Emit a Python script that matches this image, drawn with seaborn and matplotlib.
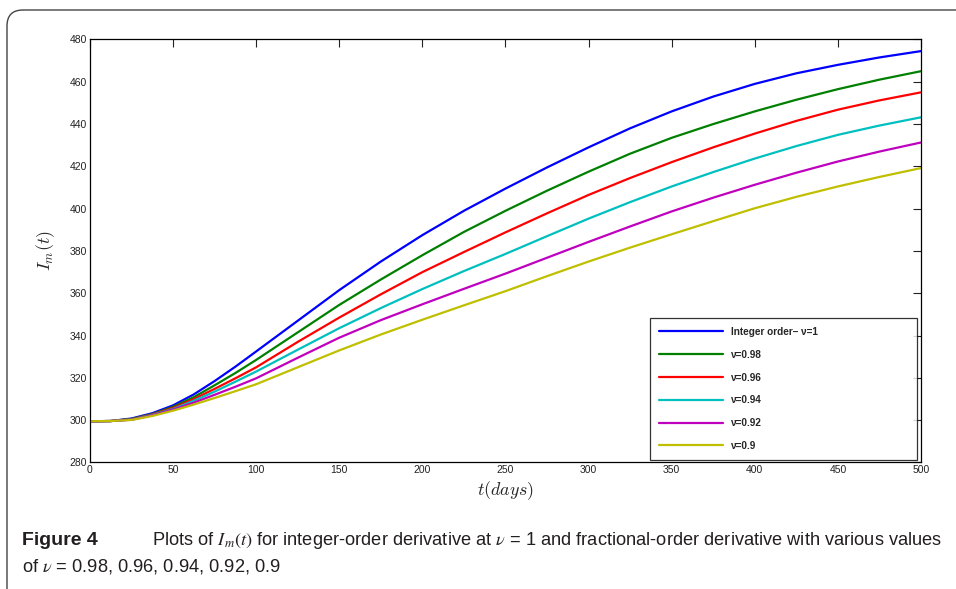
import numpy as np
import pandas as pd
import matplotlib
matplotlib.use("Agg")
import matplotlib.pyplot as plt
from matplotlib.patches import FancyBboxPatch
import seaborn as sns

# time grid (days) and curves
t = [0, 12.5, 25, 37.5, 50, 62.5, 75, 87.5, 100, 125, 150, 175, 200, 225, 250,
     275, 300, 325, 350, 375, 400, 425, 450, 475, 500]
I_int = [299.5, 299.6, 300.8, 303.3, 307.0, 312.2, 318.5, 325.3, 332.5, 347.0, 361.5,
         375.0, 387.5, 399.0, 409.5, 419.5, 429.0, 438.0, 446.0, 453.0, 459.0, 464.0,
         468.0, 471.5, 474.5]
I_098 = [299.5, 299.6, 300.6, 302.9, 306.3, 310.9, 316.5, 322.3, 328.5, 341.5, 354.5,
         366.5, 378.0, 389.0, 399.0, 408.5, 417.5, 426.0, 433.5, 440.0, 446.0, 451.5,
         456.5, 461.0, 465.0]
I_096 = [299.5, 299.6, 300.4, 302.7, 305.8, 310.0, 314.8, 319.8, 325.0, 337.0, 348.5,
         359.5, 370.0, 379.5, 388.8, 397.8, 406.5, 414.5, 422.0, 429.0, 435.5, 441.5,
         446.8, 451.2, 455.0]
I_094 = [299.5, 299.6, 300.3, 302.5, 305.3, 309.2, 313.5, 318.2, 323.0, 333.3, 343.5,
         353.0, 362.0, 370.5, 378.6, 387.0, 395.3, 403.1, 410.5, 417.3, 423.7, 429.6,
         434.9, 439.3, 443.2]
I_092 = [299.5, 299.6, 300.2, 302.3, 305.0, 308.3, 312.0, 315.8, 319.8, 329.5, 339.0,
         347.3, 354.8, 362.1, 369.3, 376.8, 384.3, 391.6, 398.7, 405.2, 411.3, 417.0,
         422.3, 427.0, 431.3]
I_090 = [299.5, 299.6, 300.1, 302.0, 304.5, 307.4, 310.5, 313.7, 317.0, 325.0, 333.0,
         340.5, 347.5, 354.3, 361.0, 368.1, 375.0, 381.6, 387.9, 394.1, 400.2, 405.6,
         410.5, 415.0, 419.2]

labels = ["Integer order\u2013 \u03bd=1", "\u03bd=0.98", "\u03bd=0.96",
          "\u03bd=0.94", "\u03bd=0.92", "\u03bd=0.9"]
colors = ["#0000ff", "#008000", "#ff0000", "#00bfbf", "#bf00bf", "#bfbf00"]

series = [I_int, I_098, I_096, I_094, I_092, I_090]
df = pd.concat([pd.DataFrame({"t": t, "I": s, "case": lab})
                for s, lab in zip(series, labels)], ignore_index=True)

sns.set_style("white")
plt.rcParams["font.family"] = ["Liberation Sans", "DejaVu Sans"]
plt.rcParams["mathtext.fontset"] = "cm"

fig = plt.figure(figsize=(9.56, 5.89), dpi=100)
ax = fig.add_axes([0.0941, 0.2148, 0.8693, 0.7182])

sns.lineplot(data=df, x="t", y="I", hue="case", palette=colors, linewidth=1.6, ax=ax)

ax.set_xlim(0, 500)
ax.set_ylim(280, 480)
ax.set_xticks(np.arange(0, 501, 50))
ax.set_yticks(np.arange(280, 481, 20))
ax.tick_params(direction="in", top=True, right=True, length=5.5, width=0.8,
               labelsize=7.5, pad=2, colors="#222222")
for sp in ax.spines.values():
    sp.set_linewidth(0.9)
    sp.set_color("black")
ax.set_xlabel("$t(days)$", fontsize=13, labelpad=3)
ax.set_ylabel("$I_m(t)$", fontsize=13, labelpad=9)

leg = ax.legend(loc="lower left", bbox_to_anchor=(0.674, 0.006, 0.321, 0.336),
                mode="expand", frameon=True, fancybox=False, edgecolor="black",
                handlelength=6.4, labelspacing=1.28, borderpad=0.9, borderaxespad=0,
                prop={"size": 7.2, "weight": "bold"})
leg.get_frame().set_linewidth(0.9)
for line in leg.get_lines():
    line.set_linewidth(1.6)

# rounded frame around the figure
frame = FancyBboxPatch((0.07, -0.2), 9.9, 5.99, boxstyle="round,pad=0,rounding_size=0.16",
                       transform=fig.dpi_scale_trans, fill=False, edgecolor="#444444",
                       linewidth=1.0)
fig.add_artist(frame)

cap_col = "#231f20"
fig.text(0.023, 0.0815, "Figure 4", fontsize=14, fontweight="bold", va="center",
         color=cap_col)
cap1 = fig.text(0.159, 0.0815,
                r"Plots of $I_m(t)$ for integer-order derivative at $\nu$ = 1 and fractional-order derivative with various values",
                fontsize=12, va="center", color=cap_col, math_fontfamily="stix")
cap2 = fig.text(0.023, 0.039, r"of $\nu$ = 0.98, 0.96, 0.94, 0.92, 0.9",
                fontsize=12, va="center", color=cap_col, math_fontfamily="stix")

# size caption so the first line ends where the reference's does (x ~ 940 px)
fig.canvas.draw()
w = cap1.get_window_extent().width
fs = 12 * (940 - 152) / w
cap1.set_fontsize(fs)
cap2.set_fontsize(fs)

fig.savefig("out.png", dpi=100)
